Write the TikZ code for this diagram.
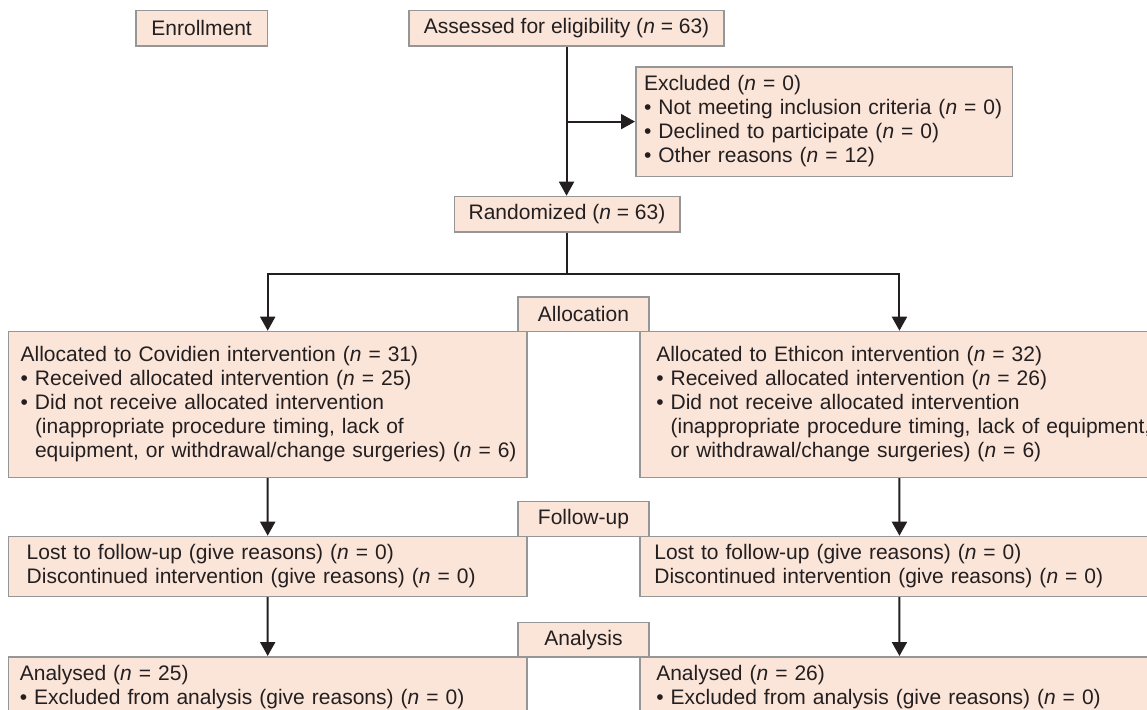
\documentclass[tikz,border=0pt]{standalone}
\usepackage{fontspec}
\setmainfont{Liberation Sans}
\usetikzlibrary{arrows.meta}

\definecolor{boxfill}{RGB}{251,228,216}
\definecolor{boxline}{RGB}{150,150,150}
\definecolor{flowline}{RGB}{35,31,32}

\newcommand{\nn}{\textit{n}}
\newcommand{\bl}{\textbullet\ }
\newcommand{\ind}{\hphantom{\textbullet\ }}
\newcommand{\boxlines}[1]{\raisebox{-1pt}{\begin{tabular}{@{}l@{}}#1\end{tabular}}}

\tikzset{
    flowbox/.style={draw=boxline, line width=0.75pt, fill=boxfill, anchor=north west,
        inner ysep=0pt, text=flowline, font=\fontsize{10.5}{12}\selectfont},
    textbox/.style={flowbox, align=left, minimum height=#1},
    textbox/.default=30pt,
    stagebox/.style={flowbox, align=center, minimum width=65.7pt, minimum height=17.4pt},
    flow/.style={draw=flowline, line width=1pt, -{Triangle[length=7pt, width=7.5pt]}},
}

\begin{document}
\begin{tikzpicture}[x=0.5pt, y=-0.5pt]

    \fill[white] (0,0) rectangle (1147,709);
    \path[use as bounding box] (0,0) rectangle (1147,709);
    \clip (0,0) rectangle (1147,709);

    % enrollment
    \node[stagebox, minimum width=65.85pt, minimum height=17.8pt] (enroll) at (135,9.7) {Enrollment};
    \node[stagebox, minimum width=157.5pt, minimum height=17.8pt] (assess) at (408.3,9.7) {Assessed for eligibility (\nn{} = 63)};
    \node[textbox=54.85pt, text width=179.95pt, inner xsep=4.15pt] (excl) at (635,66)
        {\boxlines{Excluded (\nn{} = 0)\\ \bl Not meeting inclusion criteria (\nn{} = 0)\\ \bl Declined to participate (\nn{} = 0)\\ \bl Other reasons (\nn{} = 12)}};
    \node[stagebox, minimum width=112.75pt, minimum height=17.65pt] (rand) at (453.5,195.7) {Randomized (\nn{} = 63)};

    % stage labels
    \node[stagebox] (alloclab) at (517,296) {Allocation};
    \node[stagebox] (followlab) at (517,500.7) {Follow-up};
    \node[stagebox] (analysislab) at (517,621.5) {Analysis};

    % left arm
    \node[textbox=73pt, text width=247.05pt, inner xsep=6.1pt] (allocL) at (7.7,330.7)
        {\boxlines{Allocated to Covidien intervention (\nn{} = 31)\\ \bl Received allocated intervention (\nn{} = 25)\\ \bl Did not receive allocated intervention\\ \ind(inappropriate procedure timing, lack of\\ \ind equipment, or withdrawal/change surgeries) (\nn{} = 6)}};
    \node[textbox=30pt, text width=240.95pt, inner xsep=9.15pt] (lostL) at (7.7,535.7)
        {\boxlines{Lost to follow-up (give reasons) (\nn{} = 0)\\ Discontinued intervention (give reasons) (\nn{} = 0)}};
    \node[textbox=30.5pt, text width=247.85pt, inner xsep=5.7pt] (anaL) at (7.7,656)
        {\boxlines{Analysed (\nn{} = 25)\\ \bl Excluded from analysis (give reasons) (\nn{} = 0)}};

    % right arm
    \node[textbox=73pt, text width=243.2pt, inner xsep=8.05pt] (allocR) at (639.4,330.7)
        {\boxlines{Allocated to Ethicon intervention (\nn{} = 32)\\ \bl Received allocated intervention (\nn{} = 26)\\ \bl Did not receive allocated intervention\\ \ind(inappropriate procedure timing, lack of equipment,\\ \ind or withdrawal/change surgeries) (\nn{} = 6)}};
    \node[textbox=30pt, text width=245.1pt, inner xsep=7.1pt] (lostR) at (639.4,535.7)
        {\boxlines{Lost to follow-up (give reasons) (\nn{} = 0)\\ Discontinued intervention (give reasons) (\nn{} = 0)}};
    \node[textbox=30.5pt, text width=243.2pt, inner xsep=8.05pt] (anaR) at (639.4,656)
        {\boxlines{Analysed (\nn{} = 26)\\ \bl Excluded from analysis (give reasons) (\nn{} = 0)}};

    % connectors
    \draw[flow] (assess.south) -- (assess.south |- rand.north);
    \draw[flow] (assess.south |- excl.west) -- (excl.west);
    \path (rand.south) ++(0,41) coordinate (split);
    \draw[flow, -] (rand.south) -- (split);
    \draw[flow] (split) -| (allocL.north);
    \draw[flow] (split) -| (allocR.north);
    \draw[flow] (allocL) -- (lostL);
    \draw[flow] (lostL) -- (anaL);
    \draw[flow] (allocR) -- (lostR);
    \draw[flow] (lostR) -- (anaR);

\end{tikzpicture}
\end{document}
